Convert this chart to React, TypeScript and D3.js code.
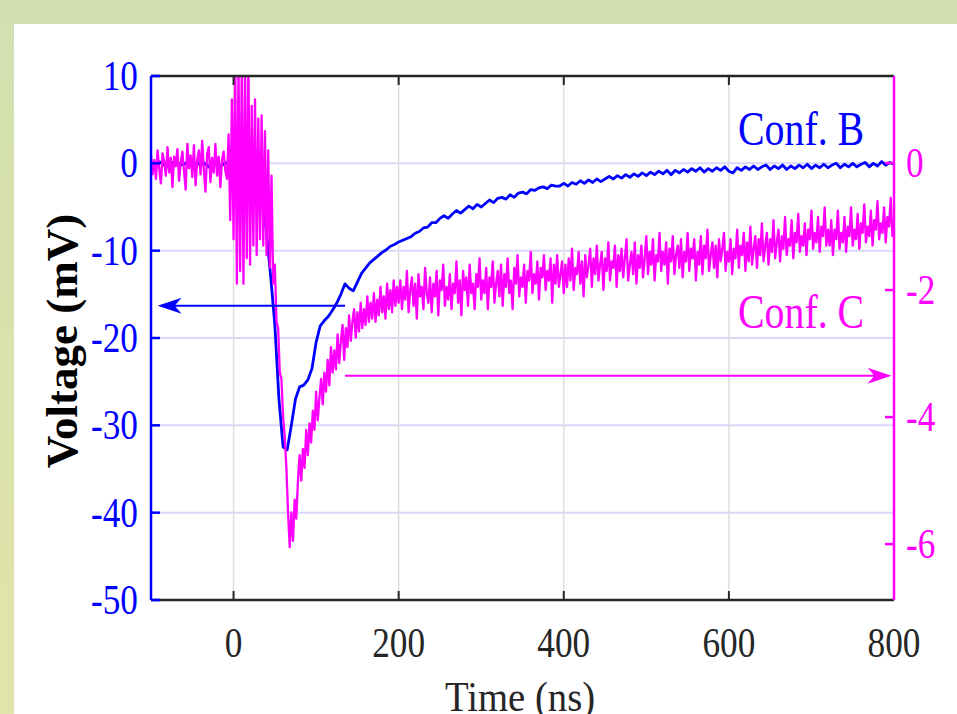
import React from 'react';
import * as d3 from 'd3';

// Conf. B trace (mV, left axis), sampled every 5 ns from -100 ns
const blueStart = -100;
const blueStep = 5;
const blueValues = [
  0.1, -0.3, 0.2, -0.1, -0.4, 0.0, 0.3, -0.2, -0.1, 0.2, -0.3, 0.1, -0.2, 0.0, -0.4, 0.2, -0.1, -0.3, 0.1, -0.2,
  0.2, -0.5, 0.4, -0.3, -0.6, -1.2,
  -2.0, -4.0, -8.0, -13.0, -18.5, -27.0, -32.5, -32.8, -30.0, -27.0, -25.6, -25.4, -24.8, -23.5, -20.5, -18.6,
  -18.0, -17.5, -16.8, -16.0, -15.0, -13.8, -14.3, -14.6, -13.6, -12.6, -12.0, -11.4, -11.0, -10.6, -10.2, -9.9,
  -9.5, -9.3, -9.0,
  -8.8, -8.6, -8.4, -8.0, -7.8, -7.4, -7.3, -6.8, -6.8, -6.3,
  -6.0, -6.3, -5.8, -5.4, -5.7, -5.3, -4.9, -5.2, -4.7, -5.0,
  -4.6, -4.2, -4.5, -4.0, -3.9, -4.1, -3.6, -3.9, -3.4, -3.3,
  -3.5, -3.0, -3.1, -2.8, -2.7, -2.9, -2.5, -2.6, -2.6, -2.3,
  -2.6, -2.2, -2.4, -2.0, -2.3, -1.9, -2.2, -1.8, -2.1, -1.8,
  -1.5, -1.8, -1.4, -1.7, -1.3, -1.6, -1.2, -1.5, -1.1, -1.4,
  -1.0, -1.3, -0.9, -1.2, -0.8, -1.3, -0.8, -1.1, -0.7, -1.0,
  -0.6, -0.9, -0.5, -1.0, -0.6, -0.9, -0.5, -0.8, -0.4, -0.9,
  -1.1, -0.5, -0.8, -0.4, -0.7, -0.3, -0.7, -0.4, -0.2, -0.7,
  -0.3, -0.6, -0.2, -0.7, -0.3, -0.6, -0.2, -0.5, -0.1, -0.6,
  -0.2, -0.5, -0.1, -0.5, -0.2, 0.0, -0.5, -0.1, -0.4, 0.0,
  -0.4, -0.1, 0.1, -0.4, 0.0, -0.3, 0.2, -0.2, 0.1, -0.1,
];

// Conf. C trace (right axis units), sampled every 2 ns from -100 ns
const magentaStart = -100;
const magentaStep = 2;
const magentaValues = [
  // -100 .. -2
  0.12, -0.18, 0.05, -0.25, 0.2, -0.1, -0.32, 0.15, 0.02, -0.2,
  0.25, -0.15, 0.08, -0.38, 0.1, -0.05, 0.22, -0.28, 0.0, 0.18,
  -0.12, -0.42, 0.3, -0.08, 0.12, -0.22, 0.28, -0.35, 0.05, 0.2,
  -0.18, 0.35, -0.1, -0.45, 0.15, 0.25, -0.3, 0.08, -0.15, 0.3,
  -0.2, 0.1, -0.38, 0.05, 0.18, -0.12, -0.25, 0.45, -0.9, 1.0,
  // 0 .. 46 (burst)
  -1.2, 1.6, -1.9, 1.6, -1.7, 1.6, -1.9, 1.5, -1.5, 1.6, -1.6, 0.9,
  -1.3, 1.0, -1.45, 0.7, -1.2, 0.75, -1.3, 0.5, -1.45, 0.2, -1.65, -0.2,
  // 48 .. 78 (drop)
  -1.9, -1.6, -2.5, -2.6, -3.3, -3.4, -4.0, -4.3, -4.8, -5.5, -6.05, -5.5, -5.95, -5.3, -5.6, -5.0,
  // 80 .. 200
  -4.6, -5.0, -4.5, -4.8, -4.2, -4.6, -4.1, -4.4, -3.9, -4.2,
  -3.6, -4.05, -3.7, -3.4, -3.8, -3.3, -3.6, -3.1, -3.5, -2.9,
  -3.3, -2.95, -3.25, -2.7, -3.15, -2.8, -2.55, -3.1, -2.6, -2.9,
  -2.4, -2.8, -2.5, -2.3, -2.75, -2.35, -2.65, -2.2, -2.6, -2.3,
  -2.55, -2.1, -2.5, -2.2, -2.45, -2.05, -2.5, -2.15, -2.4, -1.95,
  -2.35, -2.1, -2.45, -1.9, -2.3, -2.0, -2.35, -1.85, -2.25, -1.95, -2.2,
  // 202 .. 400
  -1.85, -2.3, -1.95, -2.15, -1.7, -2.35, -2.0, -1.8, -2.25, -1.9,
  -2.45, -1.75, -2.1, -1.95, -2.3, -1.65, -2.05, -2.2, -1.8, -2.35,
  -1.9, -2.1, -1.7, -2.4, -1.85, -2.0, -1.6, -2.25, -1.95, -2.15,
  -1.75, -2.3, -1.9, -2.05, -1.55, -2.2, -1.85, -2.4, -1.7, -2.0,
  -1.8, -2.25, -1.6, -2.05, -1.9, -2.3, -1.75, -1.95, -1.5, -2.15,
  -1.85, -2.05, -1.65, -2.3, -1.8, -1.95, -1.55, -2.2, -1.9, -1.7,
  -2.1, -1.6, -2.25, -1.75, -1.95, -1.5, -2.05, -1.85, -2.3, -1.65,
  -1.9, -1.45, -2.1, -1.8, -1.95, -1.6, -2.2, -1.7, -1.85, -1.4,
  -2.05, -1.75, -1.9, -1.55, -2.15, -1.65, -1.8, -1.45, -2.0, -1.7,
  -1.85, -1.5, -2.2, -1.6, -1.9, -1.45, -1.95, -1.75, -1.55, -2.05,
  // 402 .. 600
  -1.6, -1.95, -1.5, -1.85, -1.35, -2.0, -1.65, -1.75, -1.4, -1.9,
  -1.55, -2.1, -1.45, -1.8, -1.6, -1.35, -1.95, -1.5, -1.75, -1.3,
  -1.85, -1.6, -1.4, -2.0, -1.5, -1.7, -1.25, -1.85, -1.55, -1.65,
  -1.3, -1.95, -1.45, -1.7, -1.35, -1.8, -1.5, -1.2, -1.85, -1.6,
  -1.4, -1.75, -1.25, -1.9, -1.45, -1.65, -1.3, -1.8, -1.5, -1.15,
  -1.75, -1.4, -1.6, -1.2, -1.85, -1.45, -1.55, -1.1, -1.7, -1.4,
  -1.6, -1.25, -1.9, -1.35, -1.55, -1.15, -1.75, -1.45, -1.3, -1.65,
  -1.2, -1.8, -1.4, -1.55, -1.1, -1.7, -1.35, -1.5, -1.2, -1.85,
  -1.4, -1.6, -1.15, -1.75, -1.3, -1.5, -1.05, -1.7, -1.45, -1.25,
  -1.65, -1.3, -1.8, -1.2, -1.55, -1.35, -1.1, -1.7, -1.4, -1.55,
  // 602 .. 800
  -1.2, -1.75, -1.35, -1.5, -1.05, -1.65, -1.3, -1.45, -1.1, -1.7,
  -1.25, -1.55, -1.0, -1.6, -1.35, -1.15, -1.65, -1.2, -1.45, -0.95,
  -1.55, -1.3, -1.1, -1.6, -1.2, -1.4, -0.9, -1.5, -1.25, -1.05,
  -1.55, -1.15, -1.35, -0.85, -1.45, -1.2, -1.3, -0.9, -1.5, -1.1,
  -1.25, -0.8, -1.4, -1.15, -1.3, -0.95, -1.45, -1.05, -1.2, -0.75,
  -1.35, -1.1, -1.25, -0.85, -1.4, -1.0, -1.15, -0.7, -1.3, -1.05,
  -1.3, -0.9, -1.45, -1.05, -1.2, -0.75, -1.35, -1.1, -1.25, -0.85,
  -1.4, -1.0, -1.15, -0.7, -1.3, -1.05, -1.2, -0.8, -1.35, -0.95,
  -1.1, -0.65, -1.25, -1.0, -1.15, -0.75, -1.3, -0.9, -1.05, -0.6,
  -1.2, -0.95, -1.1, -0.7, -1.25, -0.85, -1.0, -0.55, -1.15, -0.9,
];

const xTicks = [0, 200, 400, 600, 800];
const leftTicks = [10, 0, -10, -20, -30, -40, -50];
const rightTicks = [0, -2, -4, -6];
const gridLeft = [0, -10, -20, -30, -40];
const gridX = [0, 200, 400, 600];

const BLUE = '#0000ff';
const MAGENTA = '#ff00ff';
const DARK = '#262626';
const FONT = '"Liberation Serif", "Times New Roman", serif';

const App = () => {
  const left = 151, right = 894, top = 76, bottom = 600;
  const x = d3.scaleLinear().domain([-100, 800]).range([left, right]);
  const yL = d3.scaleLinear().domain([-50, 10]).range([bottom, top]);
  const yR = d3.scaleLinear().domain([-6.88, 1.37]).range([bottom, top]);

  const blue = blueValues.map((v, i) => [blueStart + i * blueStep, v] as [number, number]);
  const magenta = magentaValues.map((v, i) => [magentaStart + i * magentaStep, v] as [number, number]);

  const blueLine = d3.line<[number, number]>().x(d => x(d[0])).y(d => yL(d[1]))(blue) || '';
  const magentaLine = d3.line<[number, number]>().x(d => x(d[0])).y(d => yR(d[1]))(magenta) || '';

  const arrowB = { y: yL(-16.3), x1: x(135), x2: x(-92) };
  const arrowC = { y: yR(-3.35), x1: x(135), x2: x(797) };

  return (
    <svg width={957} height={714} style={{ position: 'absolute', left: 0, top: 0, display: 'block' }}>
      <defs>
        <linearGradient id="bg" x1="0" y1="0" x2="0" y2="1">
          <stop offset="0" stopColor="#d2e0b0" />
          <stop offset="1" stopColor="#e1e4a8" />
        </linearGradient>
        <clipPath id="plot">
          <rect x={left} y={top} width={right - left} height={bottom - top} />
        </clipPath>
      </defs>
      <rect x={0} y={0} width={957} height={714} fill="url(#bg)" />
      <rect x={14} y={24} width={943} height={690} fill="#ffffff" />

      {/* grid */}
      {gridLeft.map(t => (
        <line key={'gl' + t} x1={left} x2={right} y1={yL(t)} y2={yL(t)} stroke="#d8d8fa" strokeWidth={2} />
      ))}
      {gridX.map(t => (
        <line key={'gx' + t} x1={x(t)} x2={x(t)} y1={top} y2={bottom} stroke="#dedede" strokeWidth={1.5} />
      ))}

      {/* traces */}
      <g clipPath="url(#plot)">
        <path d={blueLine} fill="none" stroke={BLUE} strokeWidth={2.8} strokeLinejoin="round" />
        <path d={magentaLine} fill="none" stroke={MAGENTA} strokeWidth={2.3} strokeLinejoin="round" />
      </g>

      {/* axes frame */}
      <line x1={left} x2={right} y1={top} y2={top} stroke={DARK} strokeWidth={2.5} />
      <line x1={left} x2={right} y1={bottom} y2={bottom} stroke={DARK} strokeWidth={2.5} />
      {xTicks.map(t => (
        <g key={'xt' + t}>
          <line x1={x(t)} x2={x(t)} y1={top} y2={top + 9} stroke={DARK} strokeWidth={2} />
          <line x1={x(t)} x2={x(t)} y1={bottom} y2={bottom - 9} stroke={DARK} strokeWidth={2} />
          <text transform={`translate(${x(t)},657) scale(0.82,1)`} textAnchor="middle" fontFamily={FONT}
            fontSize={43} fill={DARK}>{t}</text>
        </g>
      ))}
      <line x1={left} x2={left} y1={top} y2={bottom} stroke={BLUE} strokeWidth={2.5} />
      {leftTicks.map(t => (
        <g key={'lt' + t}>
          <line x1={left} x2={left + 9} y1={yL(t)} y2={yL(t)} stroke={BLUE} strokeWidth={2.5} />
          <text transform={`translate(138,${yL(t) + 14}) scale(0.82,1)`} textAnchor="end" fontFamily={FONT}
            fontSize={43} fill={BLUE}>{t}</text>
        </g>
      ))}
      <line x1={right} x2={right} y1={top} y2={bottom} stroke={MAGENTA} strokeWidth={2.5} />
      {rightTicks.map(t => (
        <g key={'rt' + t}>
          <line x1={right} x2={right - 9} y1={yR(t)} y2={yR(t)} stroke={MAGENTA} strokeWidth={2.5} />
          <text transform={`translate(906,${yR(t) + 14}) scale(0.82,1)`} textAnchor="start" fontFamily={FONT}
            fontSize={43} fill={MAGENTA}>{t}</text>
        </g>
      ))}

      {/* arrows */}
      <line x1={arrowB.x1} x2={arrowB.x2 + 4} y1={arrowB.y} y2={arrowB.y} stroke={BLUE} strokeWidth={2} />
      <path d={`M${arrowB.x2},${arrowB.y} L${arrowB.x2 + 24},${arrowB.y - 8} L${arrowB.x2 + 17},${arrowB.y} L${arrowB.x2 + 24},${arrowB.y + 8} Z`} fill={BLUE} />
      <line x1={arrowC.x1} x2={arrowC.x2 - 4} y1={arrowC.y} y2={arrowC.y} stroke={MAGENTA} strokeWidth={2} />
      <path d={`M${arrowC.x2},${arrowC.y} L${arrowC.x2 - 24},${arrowC.y - 8} L${arrowC.x2 - 17},${arrowC.y} L${arrowC.x2 - 24},${arrowC.y + 8} Z`} fill={MAGENTA} />

      {/* labels */}
      <text transform="translate(738,145) scale(0.83,1)" fontFamily={FONT} fontSize={48} fill={BLUE}>Conf. B</text>
      <text transform="translate(738,328) scale(0.83,1)" fontFamily={FONT} fontSize={48} fill={MAGENTA}>Conf. C</text>
      <text transform="translate(520,711) scale(0.9,1)" textAnchor="middle" fontFamily={FONT} fontSize={43}
        fill={DARK}>Time (ns)</text>
      <text transform="translate(77,341) rotate(-90)" textAnchor="middle" fontFamily={FONT} fontSize={45}
        fontWeight="bold" fill="#000000">Voltage (mV)</text>
    </svg>
  );
};

export default App;
